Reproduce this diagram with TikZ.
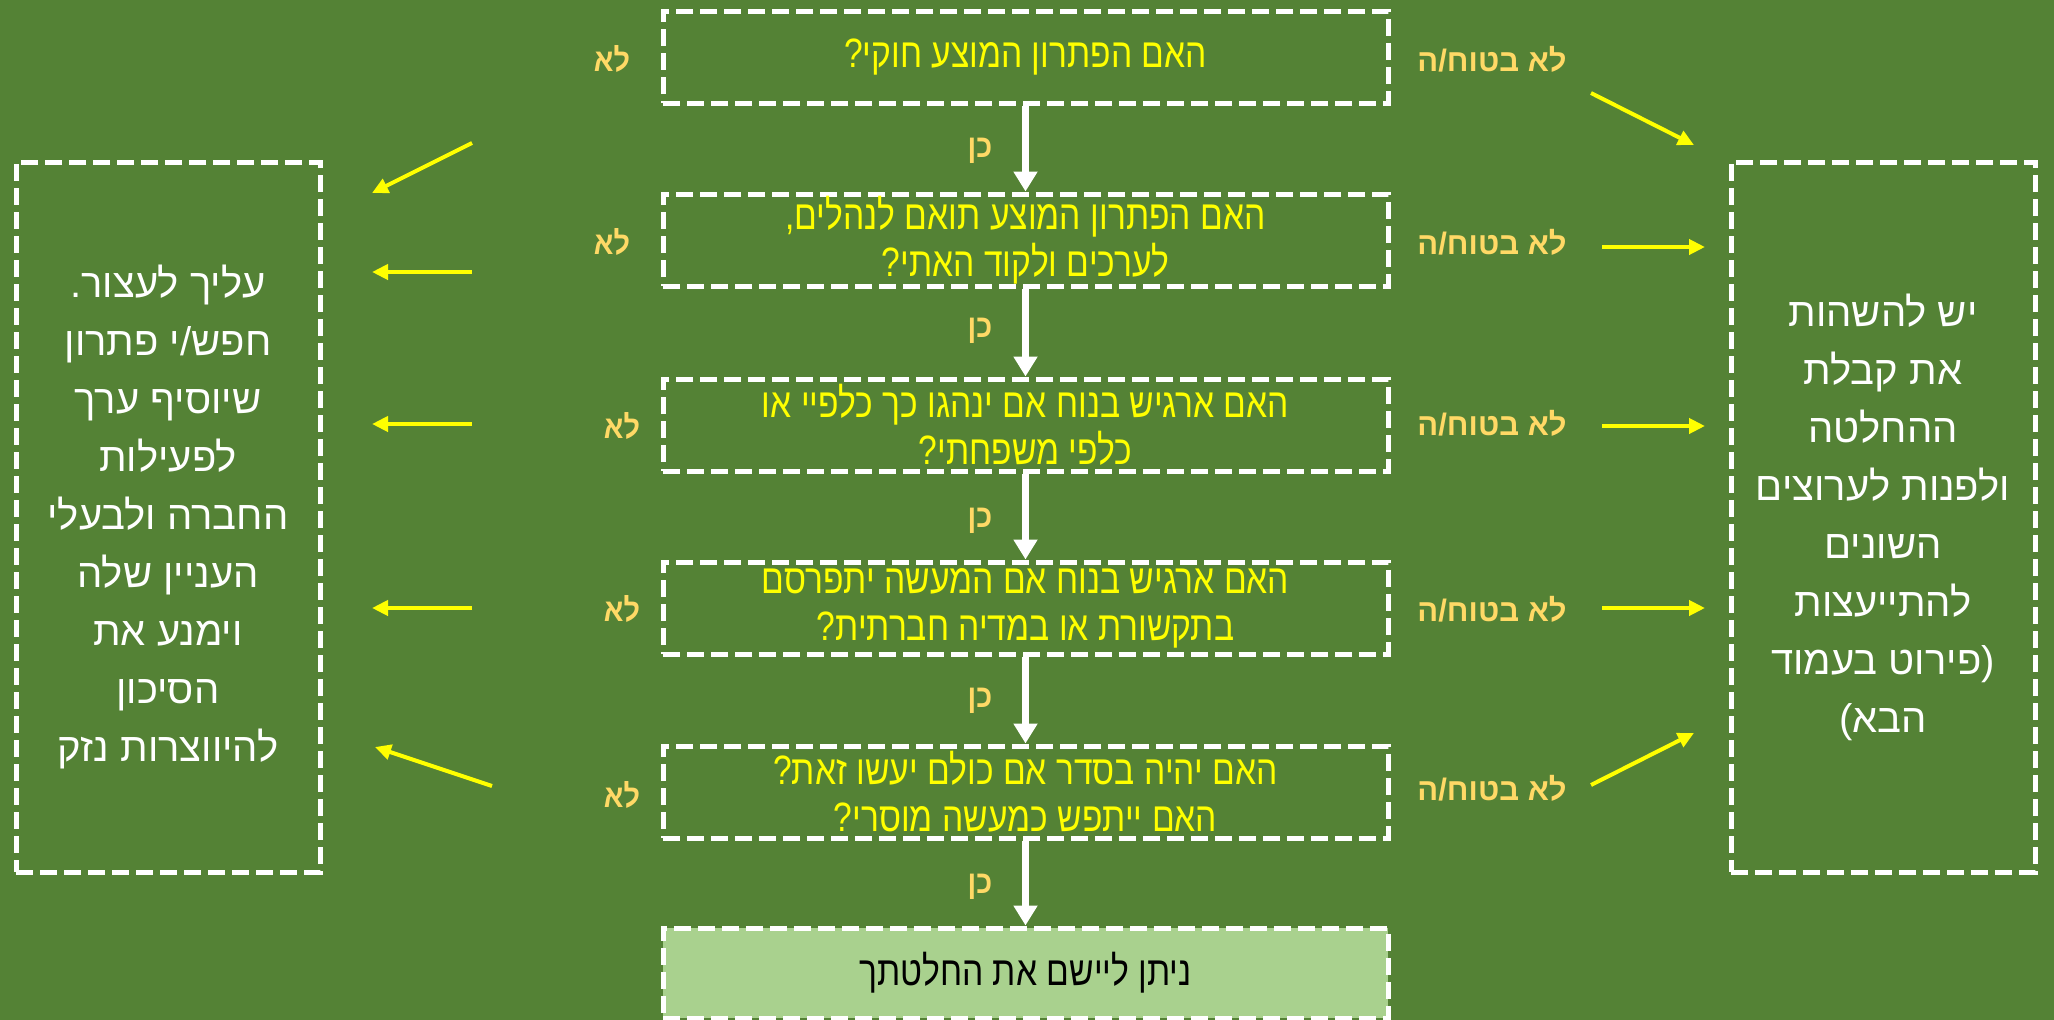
\documentclass[tikz,border=0pt]{standalone}
\usepackage{fontspec}
\usetikzlibrary{arrows.meta}
\TeXXeTstate=1
\newfontfamily\heb[Script=Hebrew]{Liberation Sans}
\newfontfamily\hebn[Script=Hebrew,FakeStretch=0.82]{Liberation Sans}
\newfontfamily\hebb[Script=Hebrew,FakeStretch=0.9]{Liberation Sans Bold}
\definecolor{bgc}{HTML}{548235}
\definecolor{gold}{HTML}{FFD966}
\definecolor{lgreen}{HTML}{A9D18E}
\definecolor{yel}{HTML}{FFFF00}
\tikzset{
  qbox/.style={draw=white, line width=5pt, dash pattern=on 17pt off 7pt,
    minimum width=725pt, minimum height=92pt, inner sep=0pt, align=center,
    text=yel, font=\hebn\fontsize{41}{47}\selectfont},
  sidebox/.style={draw=white, line width=5pt, dash pattern=on 17pt off 7pt,
    minimum width=304pt, minimum height=710pt, inner sep=0pt, align=center,
    text=white, font=\heb\fontsize{40}{58}\selectfont},
  nolbl/.style={text=gold, font=\hebb\fontsize{32}{36}\selectfont},
  unsure/.style={text=gold, font=\heb\bfseries\fontsize{31}{34}\selectfont},
  yeslbl/.style={text=gold, font=\hebb\fontsize{32}{36}\selectfont},
  down/.style={draw=white, line width=7pt, -{Triangle[length=20pt,width=23pt]}},
  side/.style={draw=yel, line width=4pt, -{Triangle[length=16pt,width=15pt]}}
}
\begin{document}
\begin{tikzpicture}[x=1pt,y=-1pt]
\useasboundingbox (0,0) rectangle (2054,1020);
\fill[bgc] (0,0) rectangle (2054,1020);

% main column
\node[qbox] (q1) at (1025.5,57) {\beginR האם הפתרון המוצע חוקי?\endR};
\node[qbox] (q2) at (1025.5,240) {\beginR האם הפתרון המוצע תואם לנהלים,\endR\\\beginR לערכים ולקוד האתי?\endR};
\node[qbox] (q3) at (1025.5,425) {\beginR האם ארגיש בנוח אם ינהגו כך כלפיי או\endR\\\beginR כלפי משפחתי?\endR};
\node[qbox] (q4) at (1025.5,608) {\beginR האם ארגיש בנוח אם המעשה יתפרסם\endR\\\beginR בתקשורת או במדיה חברתית?\endR};
\node[qbox] (q5) at (1025.5,792) {\beginR האם יהיה בסדר אם כולם יעשו זאת?\endR\\\beginR האם ייתפש כמעשה מוסרי?\endR};
\node[qbox, fill=lgreen, text=black, minimum height=90pt] (q6) at (1025.5,973) {\beginR ניתן ליישם את החלטתך\endR};

\draw[down] (q1.south) -- (q2.north);
\draw[down] (q2.south) -- (q3.north);
\draw[down] (q3.south) -- (q4.north);
\draw[down] (q4.south) -- (q5.north);
\draw[down] (q5.south) -- (q6.north);

% yes labels
\node[yeslbl] (y1) at (980,151) {\beginR כן\endR};
\node[yeslbl] (y2) at (980,331) {\beginR כן\endR};
\node[yeslbl] (y3) at (980,521) {\beginR כן\endR};
\node[yeslbl] (y4) at (980,701) {\beginR כן\endR};
\node[yeslbl] (y5) at (980,887) {\beginR כן\endR};

% no labels
\node[nolbl] (n1) at (612,59) {\beginR לא\endR};
\node[nolbl] (n2) at (612,242) {\beginR לא\endR};
\node[nolbl] (n3) at (622,426) {\beginR לא\endR};
\node[nolbl] (n4) at (622,609) {\beginR לא\endR};
\node[nolbl] (n5) at (622,795) {\beginR לא\endR};

% unsure labels
\node[unsure] (u1) at (1492,59) {\beginR לא בטוח/ה\endR};
\node[unsure] (u2) at (1492,242) {\beginR לא בטוח/ה\endR};
\node[unsure] (u3) at (1492,423) {\beginR לא בטוח/ה\endR};
\node[unsure] (u4) at (1492,609) {\beginR לא בטוח/ה\endR};
\node[unsure] (u5) at (1492,788) {\beginR לא בטוח/ה\endR};

% side boxes
\node[sidebox] (stop) at (168,517) {\beginR עליך לעצור.\endR\\\beginR חפש/י פתרון\endR\\\beginR שיוסיף ערך\endR\\\beginR לפעילות\endR\\\beginR החברה ולבעלי\endR\\\beginR העניין שלה\endR\\\beginR וימנע את\endR\\\beginR הסיכון\endR\\\beginR להיווצרות נזק\endR};
\node[sidebox] (pause) at (1883,517) {\beginR יש להשהות\endR\\\beginR את קבלת\endR\\\beginR ההחלטה\endR\\\beginR ולפנות לערוצים\endR\\\beginR השונים\endR\\\beginR להתייעצות\endR\\\beginR (פירוט בעמוד\endR\\\beginR הבא)\endR};

% left arrows
\coordinate (la1) at (472,143); \coordinate (lb1) at (372,193);
\coordinate (la2) at (472,272); \coordinate (lb2) at (372,272);
\coordinate (la3) at (472,424); \coordinate (lb3) at (372,424);
\coordinate (la4) at (472,608); \coordinate (lb4) at (372,608);
\coordinate (la5) at (492,786); \coordinate (lb5) at (375,747);
\foreach \i in {1,...,5} {\draw[side] (la\i) -- (lb\i);}

% right arrows
\coordinate (ra1) at (1591,93);  \coordinate (rb1) at (1694,145);
\coordinate (ra2) at (1602,247); \coordinate (rb2) at (1705,247);
\coordinate (ra3) at (1602,426); \coordinate (rb3) at (1705,426);
\coordinate (ra4) at (1602,608); \coordinate (rb4) at (1705,608);
\coordinate (ra5) at (1591,785); \coordinate (rb5) at (1694,733);
\foreach \i in {1,...,5} {\draw[side] (ra\i) -- (rb\i);}
\end{tikzpicture}
\end{document}
